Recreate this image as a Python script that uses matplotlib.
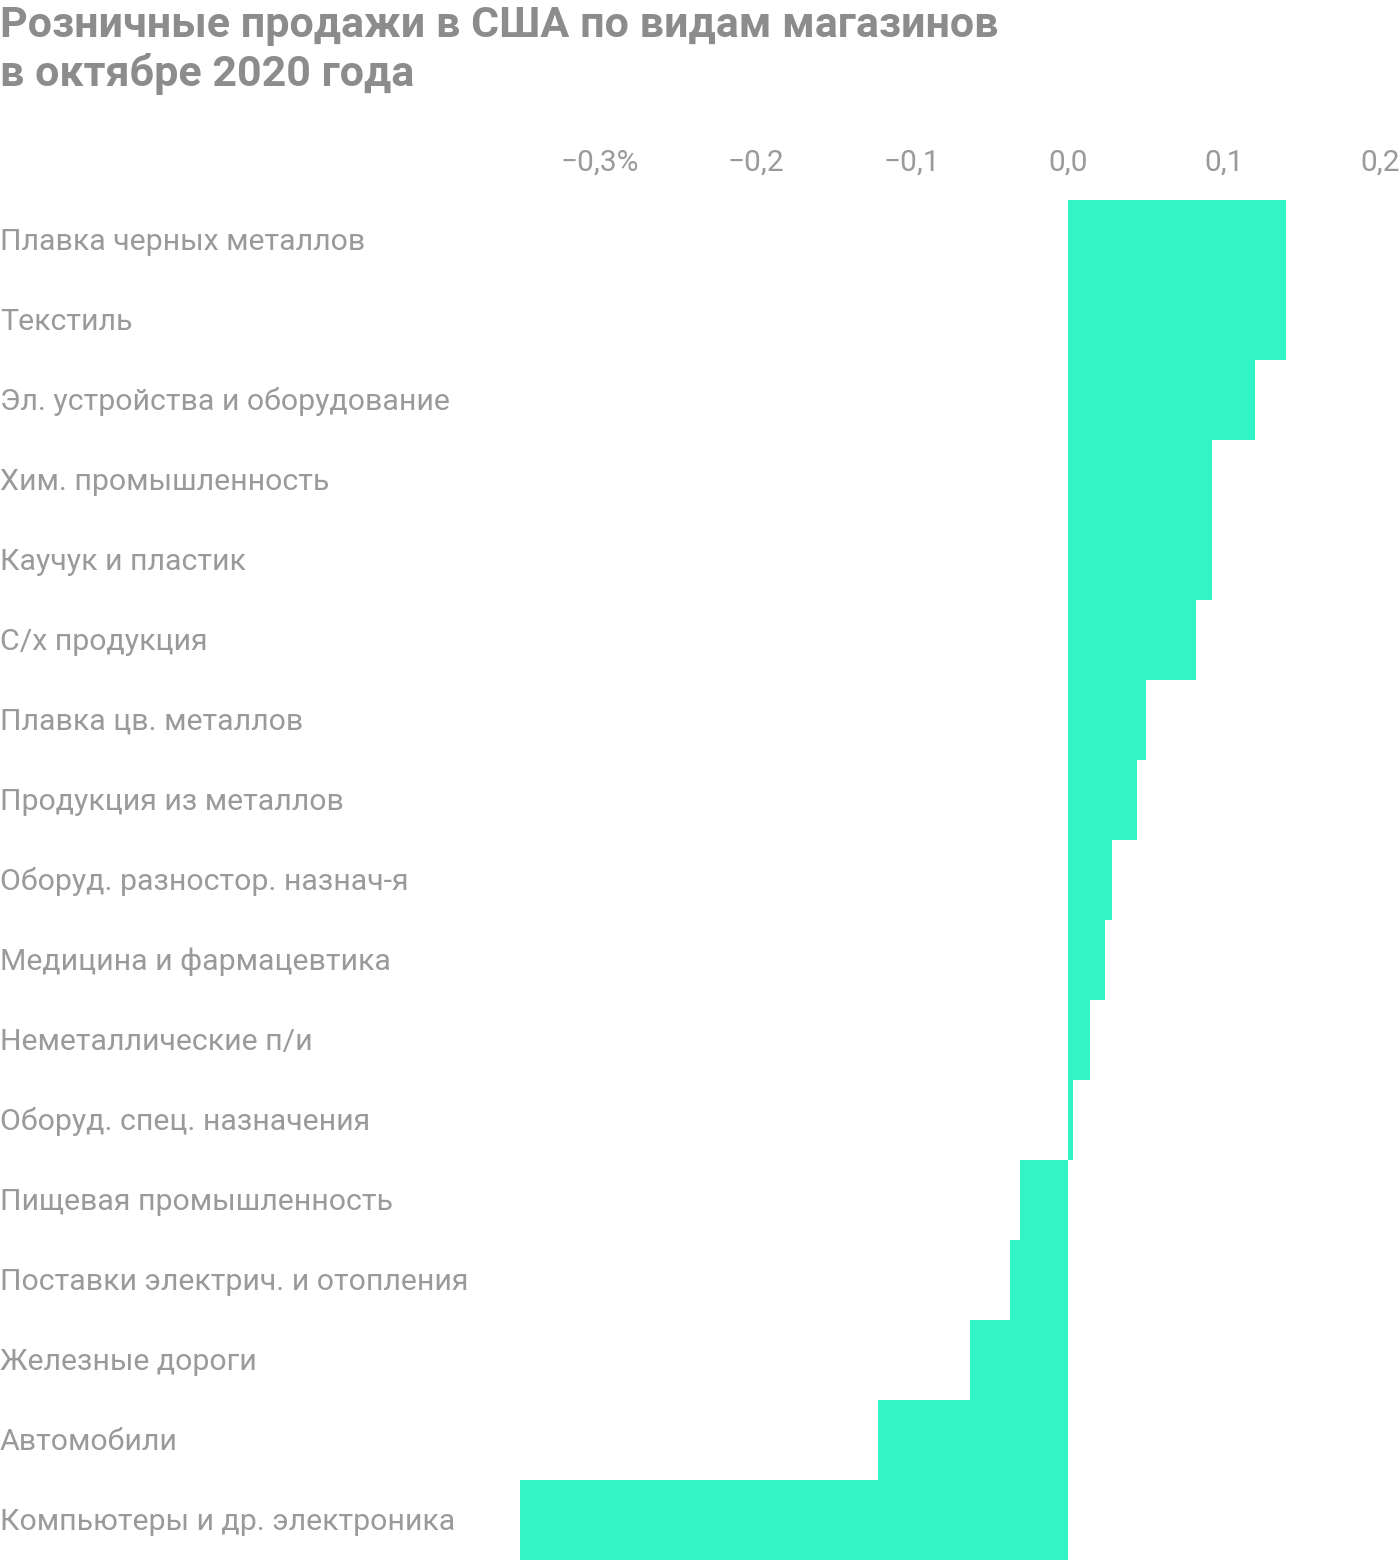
import matplotlib
matplotlib.use("Agg")
import matplotlib.pyplot as plt
from matplotlib.transforms import blended_transform_factory

# data (percentage change)
categories = [
    "Плавка черных металлов",
    "Текстиль",
    "Эл. устройства и оборудование",
    "Хим. промышленность",
    "Каучук и пластик",
    "С/х продукция",
    "Плавка цв. металлов",
    "Продукция из металлов",
    "Оборуд. разностор. назнач-я",
    "Медицина и фармацевтика",
    "Неметаллические п/и",
    "Оборуд. спец. назначения",
    "Пищевая промышленность",
    "Поставки электрич. и отопления",
    "Железные дороги",
    "Автомобили",
    "Компьютеры и др. электроника",
]
values = [0.140, 0.140, 0.120, 0.092, 0.092, 0.082, 0.050, 0.044, 0.028,
          0.024, 0.014, 0.003, -0.031, -0.037, -0.063, -0.122, -0.351]
ticks = [-0.3, -0.2, -0.1, 0.0, 0.1, 0.2]
tick_labels = ["−0,3%", "−0,2", "−0,1", "0,0", "0,1", "0,2"]
title = "Розничные продажи в США по видам магазинов\nв октябре 2020 года"

BAR = "#33f4c5"
GREY = "#9a9a9a"
TITLE_GREY = "#8c8c8c"

plt.rcParams['font.family'] = ['Roboto', 'DejaVu Sans']

W, H = 1400, 1560
fig = plt.figure(figsize=(W / 100, H / 100), dpi=100)
ax = fig.add_axes([480 / W, 0, 920 / W, 1 - 200 / H])

y = list(range(len(categories)))
ax.barh(y, values, height=1.0, color=BAR, linewidth=0)
ax.set_ylim(len(categories) - 0.5, -0.5)
ax.set_xlim(-0.3769, 0.2128)

ax.set_xticks(ticks)
ax.set_xticklabels(tick_labels)
ax.xaxis.tick_top()
ax.tick_params(axis='x', length=0, pad=17, labelsize=21.5, labelcolor=GREY)
ax.set_yticks([])
for s in ax.spines.values():
    s.set_visible(False)

trans = blended_transform_factory(fig.transFigure, ax.transData)
for yi, name in zip(y, categories):
    ax.text(0.0, yi + 0.02, name, transform=trans, ha='left', va='center',
            fontsize=21.8, color=GREY)

fig.text(0.0, 1 - 5 / H, title, ha='left', va='top', fontsize=31,
         fontweight='bold', color=TITLE_GREY, linespacing=1.22)

fig.savefig("out.png", dpi=100)
